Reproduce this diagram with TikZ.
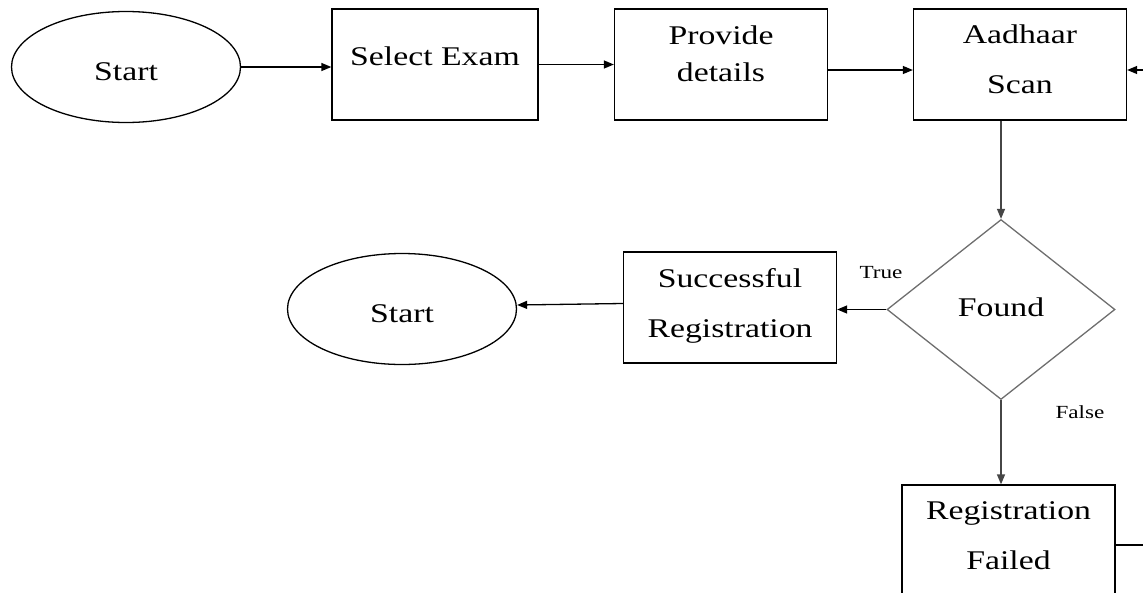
\documentclass[tikz,border=0pt]{standalone}
\usepackage{fontspec}
\setmainfont[FakeStretch=1.25]{Liberation Serif}
\usetikzlibrary{shapes.geometric,arrows.meta}
\definecolor{diagray}{RGB}{110,110,110}
\definecolor{linegray}{RGB}{70,70,70}
\begin{document}
\begin{tikzpicture}[x=1pt,y=-1pt,line width=1.3pt,
  >={Triangle[length=10pt,width=8pt]},
  box/.style={draw,rectangle,inner sep=0pt,minimum width=213pt,minimum height=111pt,align=center,font=\fontsize{27}{37}\selectfont},
  term/.style={draw,ellipse,inner sep=0pt,minimum width=229pt,minimum height=111pt,text height=26pt,text depth=0pt,font=\fontsize{27}{37}\selectfont},
  decide/.style={draw=diagray,diamond,inner sep=0pt,minimum width=228pt,minimum height=180pt,font=\fontsize{27}{37}\selectfont},
  cond/.style={inner sep=0pt,font=\fontsize{18.5}{22}\selectfont}]
\useasboundingbox (0,0) rectangle (1143,592);

\node[term] (start) at (126,67) {Start};
\node[box,minimum width=206pt,text height=18pt,text depth=17pt] (exam) at (435,64.5) {Select Exam};
\node[box,text height=56pt,text depth=23pt] (details) at (721,64.5) {Provide\\details};
\node[box,text height=70pt,text depth=13pt] (scan) at (1020,64.5) {Aadhaar\\[13pt]Scan};
\coordinate (scanin) at (1143,70);
\node[decide,text height=18pt,text depth=5pt] (found) at (1001,309.5) {Found};
\node[box,text height=70pt,text depth=11pt] (success) at (730,307.5) {Successful\\[13pt]Registration};
\node[term] (stop) at (402,309) {Start};
\node[box,text height=70pt,text depth=13pt] (failed) at (1008.5,540.5) {Registration\\[13pt]Failed};
\coordinate (failout) at (1143,545);
\node[cond] (true) at (881,273) {True};
\node[cond] (false) at (1080,412) {False};

\draw[->] (start.east) -- (start.east -| exam.west);
\draw[->] (exam.east) -- (details.west);
\draw[->] ([yshift=-5.5pt]details.east) -- ([yshift=-5.5pt]details.east -| scan.west);
\draw[->] (scanin) -- (scanin -| scan.east);
\draw[->,linegray] (found.north |- scan.south) -- (found.north);
\draw[->] (found.west) -- (found.west -| success.east);
\draw[->] ([yshift=4pt]success.west) -- ([yshift=4pt]stop.east);
\draw[->,linegray] (found.south) -- (found.south |- failed.north);
\draw (failed.east |- failout) -- (failout);
\end{tikzpicture}
\end{document}
